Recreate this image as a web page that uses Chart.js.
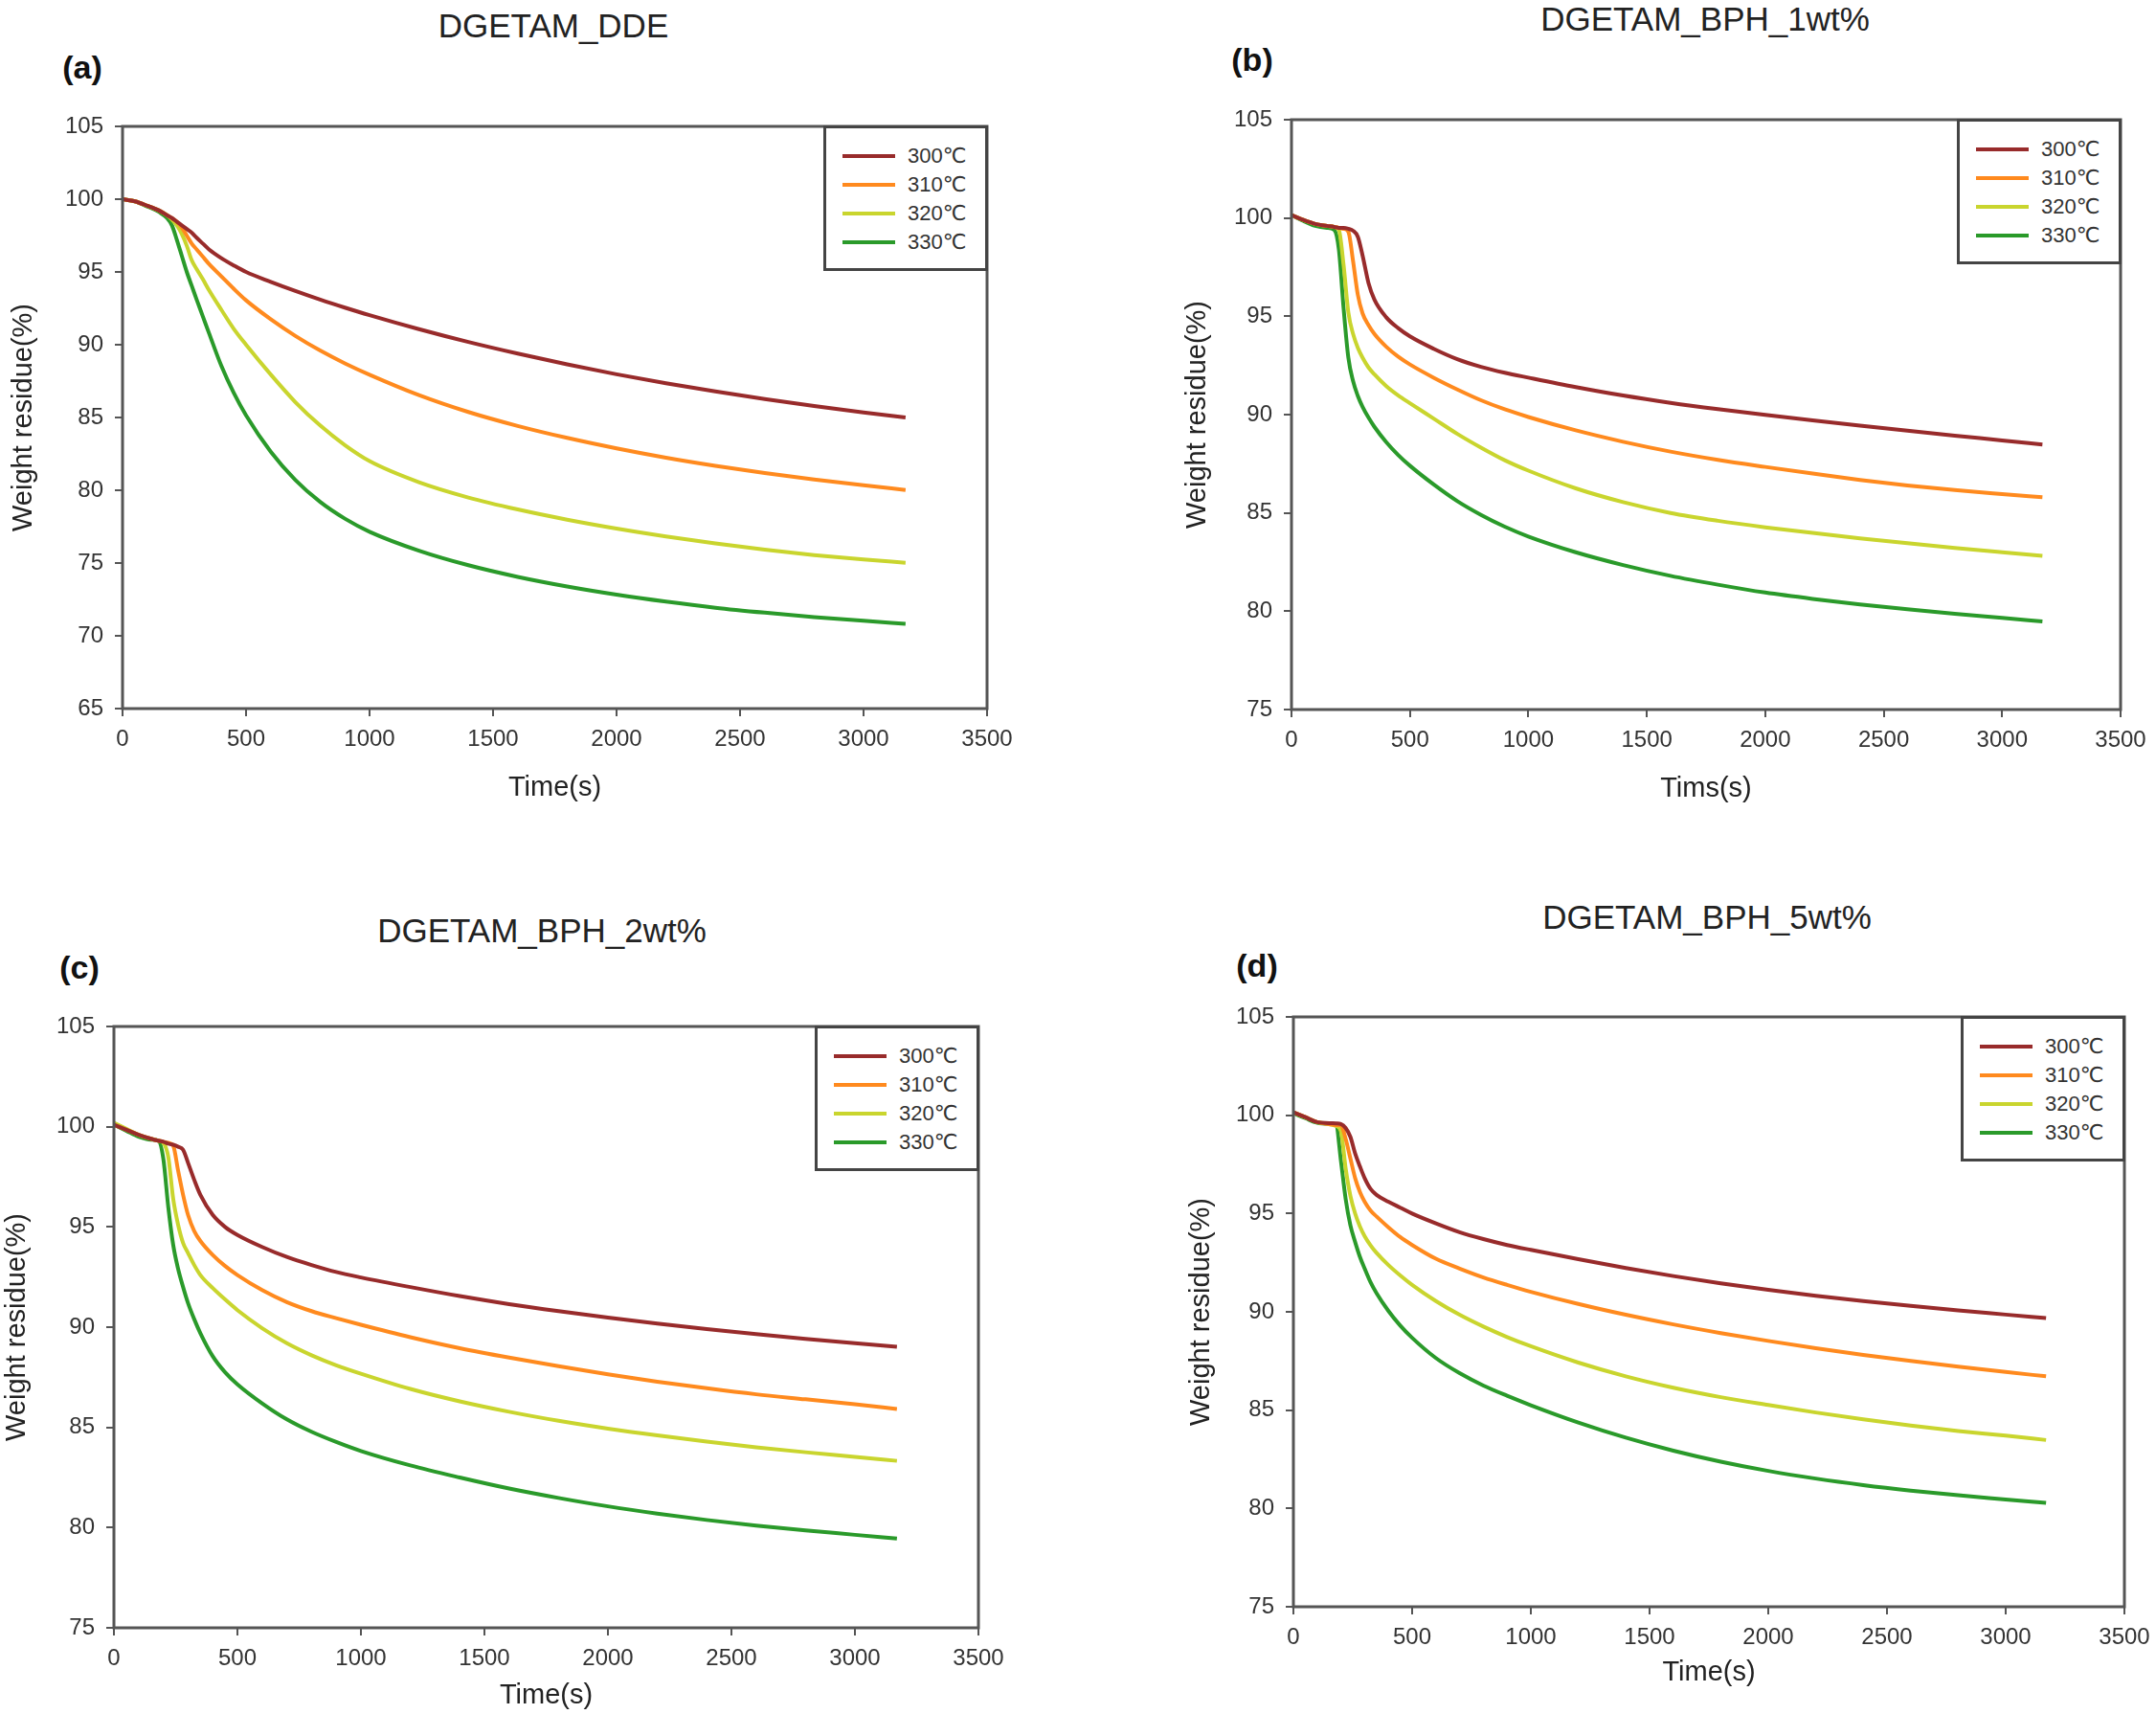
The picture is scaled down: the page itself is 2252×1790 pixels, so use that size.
<!DOCTYPE html>
<html><head><meta charset="utf-8">
<script src="https://cdn.jsdelivr.net/npm/chart.js@4.4.1/dist/chart.umd.min.js"></script>
<style>
html,body{margin:0;padding:0;background:#fff;}
body{width:2252px;height:1790px;position:relative;overflow:hidden;font-family:"Liberation Sans",Arial,"DejaVu Sans",sans-serif;color:#222;}
canvas{position:absolute;}
.title{position:absolute;font-size:35px;white-space:nowrap;transform:translate(-50%,-50%);color:#222;}
.tag{position:absolute;font-size:34px;font-weight:bold;transform:translate(-50%,-50%);color:#111;}
.legend{position:absolute;box-sizing:border-box;border:3px solid #444;background:#fff;}
.legend .sw{position:absolute;height:4px;width:55px;}
.legend .lb{position:absolute;font-size:22px;line-height:22px;color:#333;white-space:nowrap;font-family:"Liberation Sans","DejaVu Sans",sans-serif;}
</style></head><body>
<script>
// ---------------- data ----------------
const SERIES_NAMES = ['300℃', '310℃', '320℃', '330℃'];
const SERIES_COLORS = ['#982B2B', '#FF8A1E', '#C9D52E', '#2A9A2A'];
const X_TICKS = [0, 500, 1000, 1500, 2000, 2500, 3000, 3500];
const Y_TICKS_A = [65, 70, 75, 80, 85, 90, 95, 100, 105];
const Y_TICKS_BCD = [75, 80, 85, 90, 95, 100, 105];
const TIMES = [0,50,100,150,180,200,220,240,260,280,300,325,350,400,450,500,600,700,800,900,1000,1200,1400,1600,1800,2000,2200,2400,2600,2800,3000,3170];

// (a) DGETAM_DDE
const A_300 = [100,99.85,99.55,99.2,98.9,98.7,98.45,98.2,97.95,97.7,97.35,96.95,96.55,95.95,95.45,95.0,94.32,93.69,93.1,92.55,92.03,91.07,90.19,89.39,88.65,87.97,87.35,86.79,86.27,85.79,85.35,85.0];
const A_310 = [100,99.85,99.55,99.2,98.9,98.7,98.45,98.05,97.5,96.95,96.55,96.05,95.55,94.7,93.85,93.05,91.75,90.6,89.6,88.72,87.94,86.54,85.38,84.42,83.6,82.88,82.24,81.68,81.18,80.74,80.34,80.02];
const A_320 = [100,99.85,99.55,99.2,98.9,98.6,98.2,97.6,96.8,95.8,95.2,94.5,93.75,92.4,91.1,90.0,87.95,86.05,84.45,83.1,82.0,80.55,79.5,78.68,77.98,77.37,76.83,76.35,75.92,75.55,75.24,75.02];
const A_330 = [100,99.85,99.5,99.1,98.7,98.2,97.2,96.1,95.0,94.05,93.1,91.95,90.8,88.55,86.7,85.15,82.65,80.7,79.2,78.05,77.15,75.85,74.85,74.05,73.39,72.83,72.35,71.93,71.59,71.29,71.03,70.83];

// (b) DGETAM_BPH_1wt%
const B_300 = [100.15,99.9,99.7,99.6,99.55,99.5,99.5,99.45,99.35,99.05,98.1,96.7,95.85,94.95,94.4,93.98,93.35,92.82,92.43,92.13,91.88,91.4,90.97,90.6,90.28,89.99,89.71,89.44,89.18,88.93,88.69,88.48];
const B_310 = [100.15,99.9,99.7,99.6,99.55,99.5,99.45,99.3,97.8,96.1,95.15,94.55,94.1,93.45,92.95,92.55,91.88,91.28,90.73,90.27,89.88,89.2,88.62,88.12,87.7,87.34,87.0,86.68,86.4,86.16,85.96,85.8];
const B_320 = [100.15,99.9,99.7,99.6,99.55,99.4,97.6,95.2,94.1,93.4,92.9,92.4,92.05,91.45,90.98,90.58,89.8,89.02,88.32,87.68,87.15,86.25,85.55,85.0,84.6,84.27,83.98,83.71,83.46,83.22,83.0,82.82];
const B_330 = [100.15,99.85,99.6,99.5,99.4,98.4,95.4,92.9,91.7,90.95,90.4,89.85,89.38,88.6,87.95,87.4,86.45,85.6,84.9,84.3,83.8,83.0,82.35,81.8,81.35,80.95,80.63,80.35,80.1,79.87,79.66,79.48];

// (c) DGETAM_BPH_2wt%
const C_300 = [100.1,99.85,99.6,99.4,99.3,99.25,99.15,99.1,99.0,98.85,98.2,97.35,96.6,95.6,95.0,94.6,94.0,93.5,93.1,92.75,92.48,92.0,91.55,91.15,90.8,90.48,90.18,89.9,89.65,89.42,89.2,89.02];
const C_310 = [100.1,99.85,99.6,99.4,99.3,99.25,99.2,99.05,97.8,96.6,95.6,94.8,94.3,93.6,93.05,92.6,91.85,91.25,90.8,90.45,90.12,89.5,88.95,88.48,88.05,87.65,87.28,86.95,86.65,86.4,86.15,85.92];
const C_320 = [100.2,99.9,99.6,99.4,99.3,99.2,98.5,96.4,95.1,94.2,93.7,93.1,92.6,91.95,91.38,90.85,89.95,89.2,88.6,88.1,87.68,86.92,86.3,85.78,85.33,84.94,84.6,84.29,84.01,83.76,83.53,83.33];
const C_330 = [100.1,99.8,99.5,99.35,99.3,98.4,96.0,94.1,92.9,92.0,91.2,90.4,89.7,88.55,87.75,87.15,86.2,85.4,84.78,84.27,83.82,83.1,82.5,81.95,81.48,81.06,80.7,80.38,80.1,79.86,79.64,79.45];

// (d) DGETAM_BPH_5wt%
const D_300 = [100.15,99.9,99.65,99.6,99.58,99.55,99.35,98.9,98.05,97.4,96.8,96.25,95.95,95.6,95.3,95.0,94.5,94.05,93.7,93.4,93.15,92.68,92.23,91.82,91.45,91.12,90.82,90.55,90.3,90.07,89.86,89.68];
const D_310 = [100.15,99.9,99.65,99.55,99.5,99.5,98.8,97.8,96.8,96.1,95.6,95.15,94.85,94.3,93.8,93.4,92.7,92.2,91.75,91.37,91.02,90.4,89.85,89.36,88.92,88.52,88.15,87.81,87.5,87.21,86.94,86.72];
const D_320 = [100.15,99.9,99.65,99.55,99.45,99.2,97.3,95.9,95.0,94.35,93.85,93.38,93.0,92.38,91.85,91.37,90.55,89.85,89.25,88.72,88.25,87.42,86.72,86.14,85.66,85.26,84.88,84.53,84.22,83.94,83.7,83.48];
const D_330 = [100.1,99.85,99.62,99.57,99.5,97.7,95.75,94.4,93.55,92.8,92.2,91.5,90.95,90.05,89.3,88.68,87.65,86.88,86.25,85.73,85.25,84.37,83.6,82.94,82.38,81.91,81.52,81.19,80.91,80.67,80.46,80.28];

// ---------------- layout ----------------
const FONT = '"Liberation Sans", Arial, "DejaVu Sans", sans-serif';
const PANELS = [
  {tag:'(a)', title:'DGETAM_DDE', xTitle:'Time(s)', series:[A_300,A_310,A_320,A_330], yTicks:Y_TICKS_A,
   L:128, R:1031, T:132, B:740, AW:124, AH:104, titlePos:[578,27], tagPos:[86,70]},
  {tag:'(b)', title:'DGETAM_BPH_1wt%', xTitle:'Tims(s)', series:[B_300,B_310,B_320,B_330], yTicks:Y_TICKS_BCD,
   L:1349, R:2215, T:125, B:741, AW:119, AH:104, titlePos:[1781,20], tagPos:[1308,62]},
  {tag:'(c)', title:'DGETAM_BPH_2wt%', xTitle:'Time(s)', series:[C_300,C_310,C_320,C_330], yTicks:Y_TICKS_BCD,
   L:119, R:1022, T:1072, B:1700, AW:122, AH:92, titlePos:[566,972], tagPos:[83,1010]},
  {tag:'(d)', title:'DGETAM_BPH_5wt%', xTitle:'Time(s)', series:[D_300,D_310,D_320,D_330], yTicks:Y_TICKS_BCD,
   L:1351, R:2219, T:1062, B:1678, AW:117, AH:90, titlePos:[1783,958], tagPos:[1313,1008]}
];
const PT = 34, PR = 42;

const framePlugin = {
  id: 'frame',
  afterDatasetsDraw(chart) {
    const {ctx, chartArea: {left, top, right, bottom}} = chart;
    ctx.save();
    ctx.strokeStyle = '#555';
    ctx.lineWidth = 3;
    ctx.strokeRect(left, top, right - left, bottom - top);
    ctx.restore();
  }
};

function addText(cls, text, x, y) {
  const d = document.createElement('div');
  d.className = cls; d.textContent = text;
  d.style.left = x + 'px'; d.style.top = y + 'px';
  document.body.appendChild(d);
}

PANELS.forEach(p => {
  const cv = document.createElement('canvas');
  const w = (p.R - p.L) + p.AW + PR;
  const h = (p.B - p.T) + PT + p.AH;
  cv.width = w; cv.height = h;
  cv.style.width = w + 'px'; cv.style.height = h + 'px';
  cv.style.left = (p.L - p.AW) + 'px';
  cv.style.top = (p.T - PT) + 'px';
  document.body.appendChild(cv);

  const yMin = p.yTicks[0], yMax = p.yTicks[p.yTicks.length - 1];
  new Chart(cv, {
    type: 'line',
    data: {
      datasets: p.series.map((vals, i) => ({
        label: SERIES_NAMES[i],
        data: TIMES.map((t, k) => ({x: t, y: vals[k]})),
        borderColor: SERIES_COLORS[i],
        borderWidth: 4,
        pointRadius: 0,
        fill: false,
        cubicInterpolationMode: 'monotone'
      }))
    },
    options: {
      responsive: false,
      animation: false,
      devicePixelRatio: 1,
      layout: {padding: {top: PT, right: PR, left: 0, bottom: 0}},
      plugins: {legend: {display: false}, tooltip: {enabled: false}},
      scales: {
        x: {
          type: 'linear', min: X_TICKS[0], max: X_TICKS[X_TICKS.length - 1],
          afterBuildTicks: s => { s.ticks = X_TICKS.map(v => ({value: v})); },
          afterFit: s => { s.height = p.AH; },
          border: {display: false},
          grid: {display: true, drawOnChartArea: false, drawTicks: true, tickLength: 8, color: '#555', lineWidth: 2},
          ticks: {font: {size: 24, family: FONT}, color: '#333', padding: 10, maxRotation: 0, autoSkip: false, callback: v => String(v)},
          title: {display: true, text: p.xTitle, font: {size: 29, family: FONT}, color: '#222', padding: {top: 4, bottom: 4}}
        },
        y: {
          type: 'linear', min: yMin, max: yMax,
          afterBuildTicks: s => { s.ticks = p.yTicks.map(v => ({value: v})); },
          afterFit: s => { s.width = p.AW; },
          border: {display: false},
          grid: {display: true, drawOnChartArea: false, drawTicks: true, tickLength: 8, color: '#555', lineWidth: 2},
          ticks: {font: {size: 24, family: FONT}, color: '#333', padding: 12, autoSkip: false, callback: v => String(v)},
          title: {display: true, text: 'Weight residue(%)', font: {size: 29, family: FONT}, color: '#222', padding: {top: 4, bottom: 4}}
        }
      }
    },
    plugins: [framePlugin]
  });

  addText('title', p.title, p.titlePos[0], p.titlePos[1]);
  addText('tag', p.tag, p.tagPos[0], p.tagPos[1]);

  // legend box (top-right inside plot frame)
  const lg = document.createElement('div');
  lg.className = 'legend';
  const lw = 172, lh = 152;
  lg.style.left = (p.R - lw + 1) + 'px';
  lg.style.top = (p.T - 1) + 'px';
  lg.style.width = lw + 'px';
  lg.style.height = lh + 'px';
  SERIES_NAMES.forEach((name, i) => {
    const cy = 28.5 + 30.3 * i;
    const sw = document.createElement('div');
    sw.className = 'sw';
    sw.style.background = SERIES_COLORS[i];
    sw.style.left = (lw - 152 - 3) + 'px';
    sw.style.top = (cy - 2) + 'px';
    lg.appendChild(sw);
    const lb = document.createElement('div');
    lb.className = 'lb';
    lb.textContent = name;
    lb.style.left = (lw - 84 - 3) + 'px';
    lb.style.top = (cy - 11) + 'px';
    lg.appendChild(lb);
  });
  document.body.appendChild(lg);
});
</script>
</body></html>
